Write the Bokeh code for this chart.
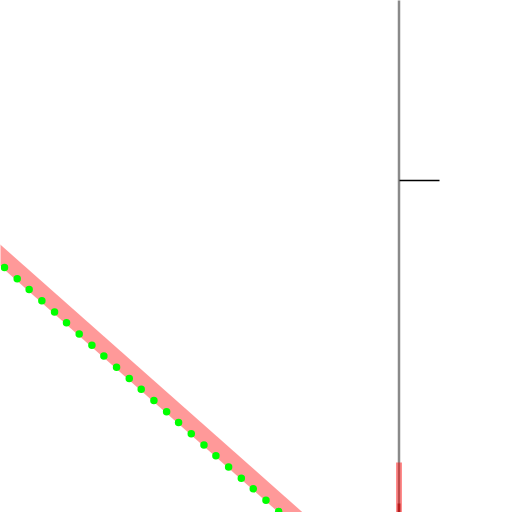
from bokeh.plotting import figure
from bokeh.embed import file_html
from bokeh.resources import INLINE
from bokeh.models import Range1d

# data (pixel-like coordinate system, y grows downward)
band_x = [-10, 305]
band_y = [246.1, 525.1]
dots_x = [4, 310]
dots_y = [267.0, 539.3]
axis_x = [398.5, 398.5]
axis_y = [-5, 520]
tick_x = [399, 439]
tick_y = [180, 180]
marker_x = [398.5, 398.5]
marker_y = [462, 515]
marker_dark_y = [503, 515]

p = figure(width=512, height=512, output_backend="svg", toolbar_location=None,
           x_range=Range1d(0, 512), y_range=Range1d(512, 0),
           min_border=0)
p.axis.visible = False
p.grid.visible = False
p.outline_line_color = None
p.background_fill_color = "white"
p.border_fill_color = "white"

p.line(band_x, band_y, line_width=16, line_color="red", line_alpha=0.4)
p.line(dots_x, dots_y, line_width=7.5, line_color="#00ff00", line_dash="0 17 0 16 0 17", line_cap="round")
p.line(axis_x, axis_y, line_width=2.5, line_color="#8a8a8a")
p.line(tick_x, tick_y, line_width=1.6, line_color="black")
p.line(marker_x, marker_y, line_width=6, line_color="red", line_alpha=0.45)
p.line(marker_x, marker_dark_y, line_width=3, line_color="#b00000", line_alpha=0.6)

open("out.html", "w").write(file_html(p, INLINE))
